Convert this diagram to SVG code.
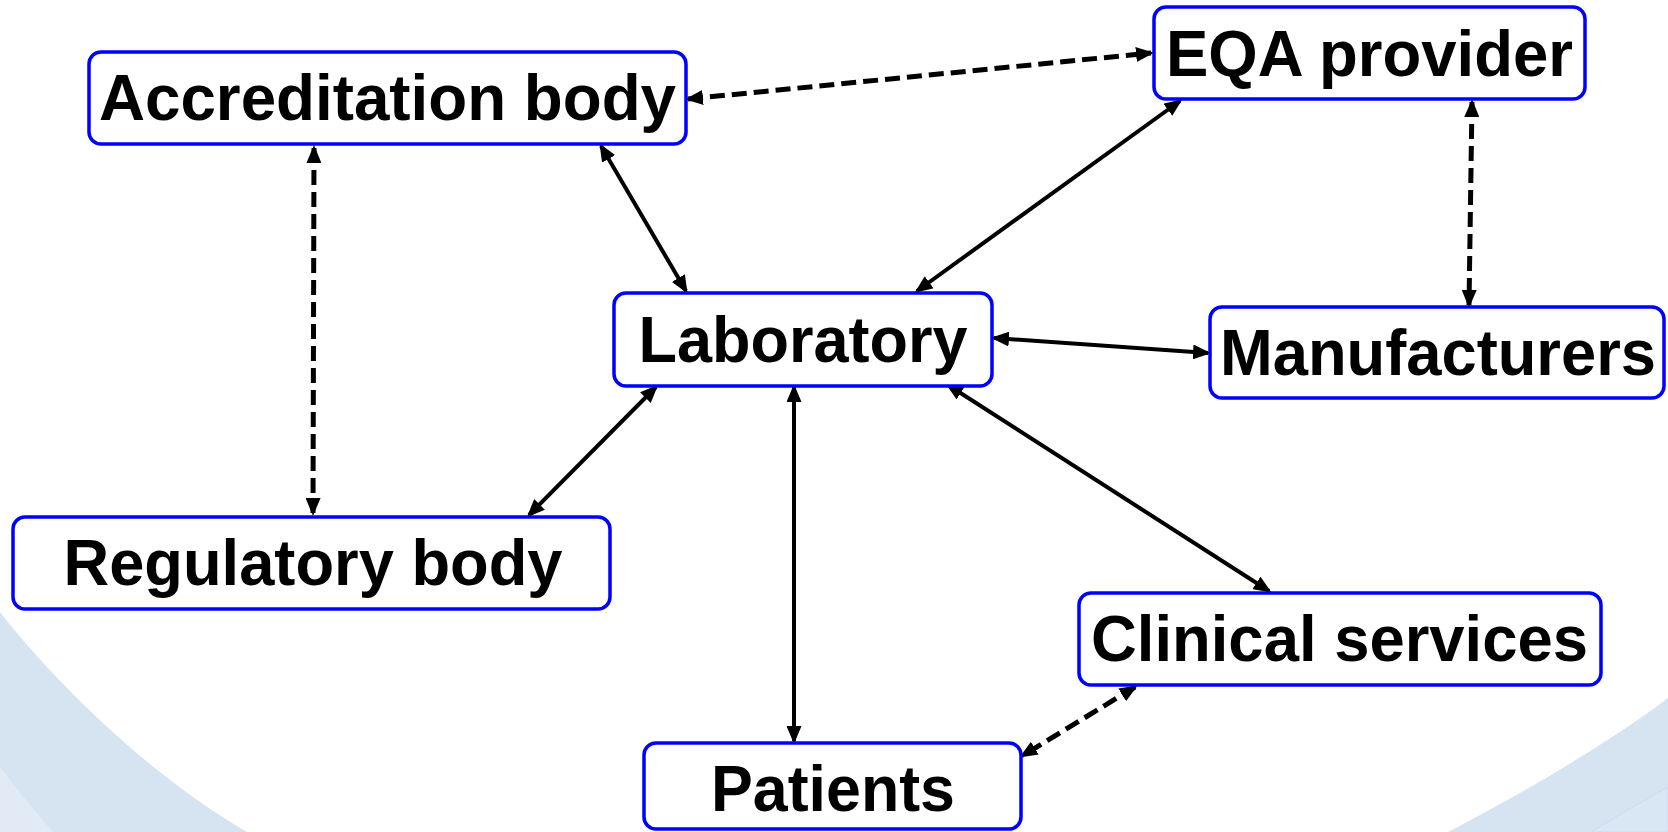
<svg xmlns="http://www.w3.org/2000/svg" width="1668" height="832" viewBox="0 0 1668 832">
  <style>
    .box { fill: #ffffff; stroke: #0000ff; stroke-width: 3.5; }
    .lbl { font-family: "Liberation Sans", Arial, sans-serif; font-weight: bold; font-size: 65px; fill: #000000; text-anchor: middle; }
    .solid { stroke: #000000; stroke-width: 4; fill: none; marker-start: url(#ah); marker-end: url(#ah); }
    .dash { stroke: #000000; stroke-width: 5; fill: none; stroke-dasharray: 15 7; marker-start: url(#ah); marker-end: url(#ah); }
  </style>
  <defs>
    <marker id="ah" markerUnits="userSpaceOnUse" markerWidth="18" markerHeight="15" refX="15" refY="7.5" orient="auto-start-reverse" viewBox="0 0 18 15">
      <path d="M0,0 L18,7.5 L0,15 Z" fill="#000000"/>
    </marker>
  </defs>
  <rect x="0" y="0" width="1668" height="832" fill="#ffffff"/>
  <g id="background">
    <path d="M0,612 C45,670 140,770 247,832 L0,832 Z" fill="#d6e4f2"/>
    <path d="M0,767 Q25,800 53,832 L0,832 Z" fill="#e2ebf5"/>
    <path d="M1668,698 C1620,735 1530,790 1448,832 L1668,832 Z" fill="#d6e4f2"/>
    <path d="M1668,787 Q1630,808 1591,832 L1668,832 Z" fill="#d9e6f3" stroke="#cddcee" stroke-width="1"/>
  </g>
  <g id="connectors">
    <line class="dash" x1="688" y1="99" x2="1151" y2="53"/>
    <line class="dash" x1="314" y1="148" x2="313" y2="513"/>
    <line class="solid" x1="601" y1="146" x2="686" y2="291"/>
    <line class="solid" x1="1180" y1="101" x2="917" y2="291"/>
    <line class="dash" x1="1472" y1="102" x2="1469" y2="305"/>
    <line class="solid" x1="994" y1="338" x2="1208" y2="353"/>
    <line class="solid" x1="656" y1="387" x2="529" y2="515"/>
    <line class="solid" x1="794" y1="387" x2="794" y2="741"/>
    <line class="solid" x1="948" y1="385" x2="1269" y2="591"/>
    <line class="dash" x1="1135" y1="687" x2="1022" y2="756"/>
  </g>
  <g id="node-accreditation">
    <rect class="box" x="89" y="52" width="597" height="92" rx="12"/>
    <text class="lbl" x="387.5" y="120" textLength="577" lengthAdjust="spacingAndGlyphs">Accreditation body</text>
  </g>
  <g id="node-eqa">
    <rect class="box" x="1154" y="7" width="431" height="92" rx="12"/>
    <text class="lbl" x="1369.5" y="76" textLength="407" lengthAdjust="spacingAndGlyphs">EQA provider</text>
  </g>
  <g id="node-laboratory">
    <rect class="box" x="614" y="293" width="378" height="93" rx="12"/>
    <text class="lbl" x="803" y="362" textLength="329" lengthAdjust="spacingAndGlyphs">Laboratory</text>
  </g>
  <g id="node-manufacturers">
    <rect class="box" x="1210" y="307" width="454" height="91" rx="12"/>
    <text class="lbl" x="1438" y="375" textLength="436" lengthAdjust="spacingAndGlyphs">Manufacturers</text>
  </g>
  <g id="node-regulatory">
    <rect class="box" x="13" y="517" width="597" height="92" rx="12"/>
    <text class="lbl" x="313" y="585" textLength="499" lengthAdjust="spacingAndGlyphs">Regulatory body</text>
  </g>
  <g id="node-clinical">
    <rect class="box" x="1079" y="593" width="522" height="92" rx="12"/>
    <text class="lbl" x="1339.5" y="661" textLength="497" lengthAdjust="spacingAndGlyphs">Clinical services</text>
  </g>
  <g id="node-patients">
    <rect class="box" x="644" y="743" width="377" height="86" rx="12"/>
    <text class="lbl" x="833" y="811" textLength="244" lengthAdjust="spacingAndGlyphs">Patients</text>
  </g>
</svg>
